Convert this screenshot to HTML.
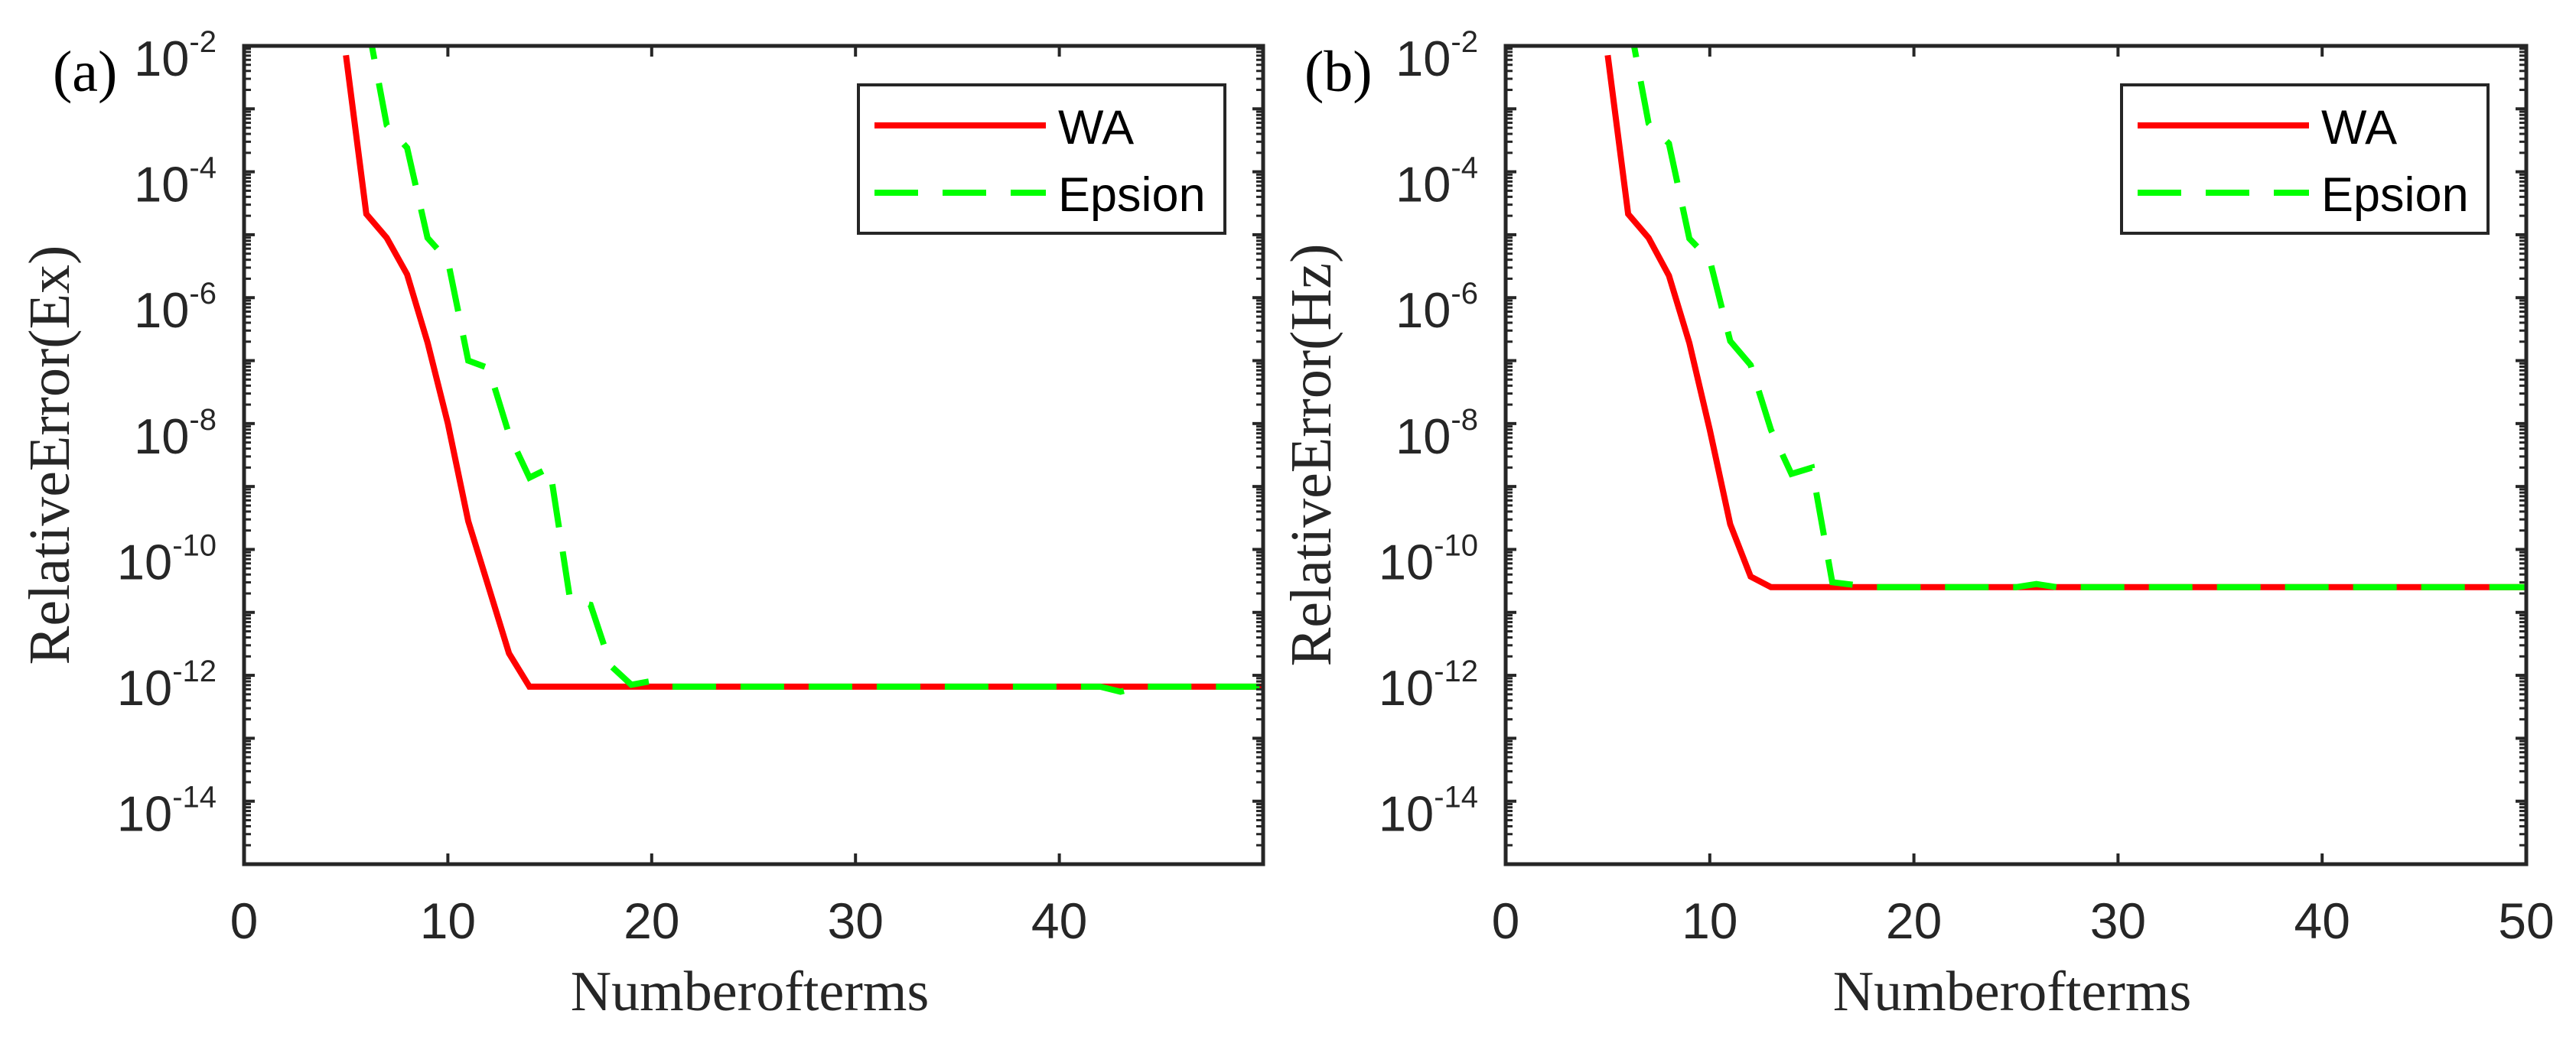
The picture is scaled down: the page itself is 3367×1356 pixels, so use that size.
<!DOCTYPE html>
<html><head><meta charset="utf-8"><style>
html,body{margin:0;padding:0;background:#fff;}
svg{display:block;}
</style></head><body>
<svg id="fig" width="3367" height="1356" viewBox="0 0 3367 1356" xmlns="http://www.w3.org/2000/svg"></svg>
<script>
// ---- data (log10 of relative error) ----
const termsA_WA = [5,6,7,8,9,10,11,12,13,14,15,16,17,18,19,20,21,22,23,24,25,26,27,28,29,30,31,32,33,34,35,36,37,38,39,40,41,42,43,44,45,46,47,48,49,50];
const logErrA_WA = [-2.15,-4.67,-5.05,-5.63,-6.71,-8.0,-9.55,-10.6,-11.65,-12.18,-12.18,-12.18,-12.18,-12.18,-12.18,-12.18,-12.18,-12.18,-12.18,-12.18,-12.18,-12.18,-12.18,-12.18,-12.18,-12.18,-12.18,-12.18,-12.18,-12.18,-12.18,-12.18,-12.18,-12.18,-12.18,-12.18,-12.18,-12.18,-12.18,-12.18,-12.18,-12.18,-12.18,-12.18,-12.18,-12.18];
const termsA_EP = [6,7,8,9,10,11,12,13,14,15,16,17,18,19,20,21,22,23,24,25,26,27,28,29,30,31,32,33,34,35,36,37,38,39,40,41,42,43,44,45,46,47,48,49,50];
const logErrA_EP = [-1.53,-3.26,-3.62,-5.05,-5.41,-7.0,-7.12,-8.17,-8.86,-8.7,-10.8,-10.88,-11.85,-12.15,-12.09,-12.18,-12.18,-12.18,-12.18,-12.18,-12.18,-12.18,-12.18,-12.18,-12.18,-12.18,-12.18,-12.18,-12.18,-12.18,-12.18,-12.18,-12.18,-12.18,-12.18,-12.18,-12.18,-12.26,-12.18,-12.18,-12.18,-12.18,-12.18,-12.18,-12.18];
const termsB_WA = [5,6,7,8,9,10,11,12,13,14,15,16,17,18,19,20,21,22,23,24,25,26,27,28,29,30,31,32,33,34,35,36,37,38,39,40,41,42,43,44,45,46,47,48,49,50];
const logErrB_WA = [-2.15,-4.67,-5.05,-5.65,-6.72,-8.1,-9.6,-10.43,-10.6,-10.6,-10.6,-10.6,-10.6,-10.6,-10.6,-10.6,-10.6,-10.6,-10.6,-10.6,-10.6,-10.6,-10.6,-10.6,-10.6,-10.6,-10.6,-10.6,-10.6,-10.6,-10.6,-10.6,-10.6,-10.6,-10.6,-10.6,-10.6,-10.6,-10.6,-10.6,-10.6,-10.6,-10.6,-10.6,-10.6,-10.6];
const termsB_EP = [6,7,8,9,10,11,12,13,14,15,16,17,18,19,20,21,22,23,24,25,26,27,28,29,30,31,32,33,34,35,36,37,38,39,40,41,42,43,44,45,46,47,48,49,50];
const logErrB_EP = [-1.5,-3.23,-3.55,-5.06,-5.4,-6.69,-7.07,-8.1,-8.8,-8.7,-10.52,-10.56,-10.6,-10.6,-10.6,-10.6,-10.6,-10.6,-10.6,-10.6,-10.55,-10.6,-10.6,-10.6,-10.6,-10.6,-10.6,-10.6,-10.6,-10.6,-10.6,-10.6,-10.6,-10.6,-10.6,-10.6,-10.6,-10.6,-10.6,-10.6,-10.6,-10.6,-10.6,-10.6,-10.6];
const xTicksA = [0,10,20,30,40];
const xTicksB = [0,10,20,30,40,50];
const yTickExps = [-2,-4,-6,-8,-10,-12,-14];
const legendLabels = ["WA","Epsion"];

const NS = "http://www.w3.org/2000/svg";
const svg = document.getElementById('fig');
function mk(tag, attrs, parent){ const e=document.createElementNS(NS,tag); for(const k in attrs) e.setAttribute(k,attrs[k]); (parent||svg).appendChild(e); return e; }

function panel(cfg){
  const L=cfg.left, R=cfg.right, T=60, B=1130;
  const xmin=0, xmax=50, ymin=-15, ymax=-2;
  const sx = v => L + (v-xmin)/(xmax-xmin)*(R-L);
  const sy = v => T + (ymax-v)/(ymax-ymin)*(B-T);
  const g = mk('g',{});
  
  
  const clipId='clip'+cfg.id;
  const cp=mk('clipPath',{id:clipId},g); mk('rect',{x:L,y:T,width:R-L,height:B-T},cp);
  // series
  const series=[[cfg.wx,cfg.wy,'#ff0000','none','wa'],[cfg.ex,cfg.ey,'#00ff00','57 32','epsion']];
  series.forEach(s=>{
    const pts=s[0].map((n,i)=>sx(n).toFixed(1)+','+sy(s[1][i]).toFixed(1)).join(' ');
    const p=mk('polyline',{points:pts,fill:'none',stroke:s[2],'stroke-width':8,'stroke-dasharray':s[3],'stroke-linejoin':'miter','clip-path':'url(#'+clipId+')'},g);
    
    
  });
  // ticks
  const tc='#262626';
  for(let e=-15;e<=-2;e++){
    [sy(e)].forEach(y=>{
      mk('line',{x1:L,x2:L+14,y1:y,y2:y,stroke:tc,'stroke-width':4},g);
      mk('line',{x1:R,x2:R-14,y1:y,y2:y,stroke:tc,'stroke-width':4},g);
    });
    if(e<-2) for(let m=2;m<=9;m++){
      const y=sy(e+Math.log10(m));
      mk('line',{x1:L,x2:L+9,y1:y,y2:y,stroke:tc,'stroke-width':3},g);
      mk('line',{x1:R,x2:R-9,y1:y,y2:y,stroke:tc,'stroke-width':3},g);
    }
  }
  [0,10,20,30,40,50].forEach(v=>{
    const x=sx(v);
    mk('line',{x1:x,x2:x,y1:B,y2:B-14,stroke:tc,'stroke-width':4},g);
    mk('line',{x1:x,x2:x,y1:T,y2:T+14,stroke:tc,'stroke-width':4},g);
  });
  const frame=mk('rect',{x:L,y:T,width:R-L,height:B-T,fill:'none',stroke:tc,'stroke-width':5},g);
  
  
  // y tick labels
  yTickExps.forEach(e=>{
    const y=sy(e);
    const t=mk('text',{x:L-36,y:y+39,'text-anchor':'end','font-family':'Liberation Sans, sans-serif','font-size':65,fill:'#262626'},g);
    
    
    const a=mk('tspan',{},t); a.textContent='10';
    const b=mk('tspan',{dy:-31,'font-size':40},t); b.textContent=String(e);
  });
  // x tick labels
  cfg.xt.forEach(v=>{
    const t=mk('text',{x:sx(v),y:1227,'text-anchor':'middle','font-family':'Liberation Sans, sans-serif','font-size':66,fill:'#262626'},g);
    
    
    t.textContent=String(v);
  });
  // axis titles
  const xl=mk('text',{x:(L+R)/2-5,y:1321,'text-anchor':'middle','font-family':'Liberation Serif, serif','font-size':74,fill:'#262626'},g);
  
  
  xl.textContent='Numberofterms';
  const yx=L-229, yc=(T+B)/2;
  const yl=mk('text',{x:yx,y:yc,transform:'rotate(-90 '+yx+' '+yc+')','text-anchor':'middle','font-family':'Liberation Serif, serif','font-size':76,fill:'#262626'},g);
  
  
  yl.textContent=cfg.ytitle;
  const pl=mk('text',{x:cfg.labx,y:119,'font-family':'Liberation Serif, serif','font-size':76,fill:'#000'},g);
  
  
  pl.textContent=cfg.plabel;
  // legend
  const lx=R-529, ly=111;
  const lg=mk('g',{},g);
  
  
  mk('rect',{x:lx,y:ly,width:479,height:194,fill:'#fff',stroke:tc,'stroke-width':4},lg);
  const ent=[['#ff0000','none',53],['#00ff00','57 32',141]];
  ent.forEach((en,i)=>{
    const row=mk('g',{},lg);
    
    
    mk('line',{x1:lx+21,x2:lx+245,y1:ly+en[2],y2:ly+en[2],stroke:en[0],'stroke-width':8,'stroke-dasharray':en[1]},row);
    const t=mk('text',{x:lx+261,y:ly+en[2]+24,'font-family':'Liberation Sans, sans-serif','font-size':63,fill:'#000'},row);
    t.textContent=legendLabels[i];
  });
}
panel({id:'a',name:'panel-a-ex',left:319,right:1651,wx:termsA_WA,wy:logErrA_WA,ex:termsA_EP,ey:logErrA_EP,xt:xTicksA,ytitle:'RelativeError(Ex)',plabel:'(a)',labx:69});
panel({id:'b',name:'panel-b-hz',left:1968,right:3302,wx:termsB_WA,wy:logErrB_WA,ex:termsB_EP,ey:logErrB_EP,xt:xTicksB,ytitle:'RelativeError(Hz)',plabel:'(b)',labx:1705});
</script>
</body></html>
